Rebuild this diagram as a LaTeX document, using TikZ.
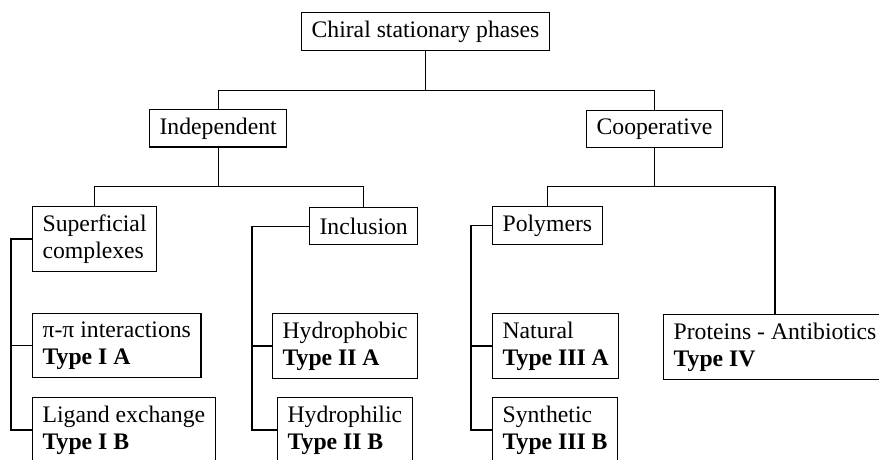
\documentclass[tikz,border=0pt]{standalone}
\usepackage{fontspec}
\setmainfont{Liberation Serif}
\usetikzlibrary{positioning}

\begin{document}
\begin{tikzpicture}[x=0.5pt, y=-0.5pt, line width=0.6pt,
  box/.style={draw, anchor=north west, align=left, inner xsep=5pt, inner ysep=4pt,
    minimum height=18.6pt, font=\fontsize{11.85}{13.6}\selectfont}]
  \useasboundingbox (0,0) rectangle (879,460);
  \clip (0,0) rectangle (879,460);

  % Root and first split
  \node[box] (csp) at (301,12) {Chiral stationary phases};
  \node[box] (indep) at (149,109) {Independent};
  \node[box] (coop) at (586,110) {Cooperative};

  % Independent branch
  \node[box] (super) at (32,206) {Superficial\\complexes};
  \node[box] (incl) at (309,207) {Inclusion};
  \node[box] (pipi) at (32,313) {π-π interactions\\\textbf{Type I A}};
  \node[box] (ligand) at (32,397) {Ligand exchange\\\textbf{Type I B}};
  \node[box] (phobic) at (272,313) {Hydrophobic\\\textbf{Type II A}};
  \node[box] (philic) at (277,397) {Hydrophilic\\\textbf{Type II B}};

  % Cooperative branch
  \node[box] (poly) at (492,206) {Polymers};
  \node[box] (natural) at (492,313) {Natural\\\textbf{Type III A}};
  \node[box] (synth) at (492,397) {Synthetic\\\textbf{Type III B}};
  \node[box] (prot) at (663,314) {Proteins - Antibiotics\\\textbf{Type IV}};

  % Tree links
  \draw (csp.south) -- ++(0,40) coordinate (j0);
  \draw (indep.north) |- (j0) -| (coop.north);
  \draw (indep.south) -- ++(0,39) coordinate (j1);
  \draw (super.north) |- (j1) -| (incl.north);
  \draw (coop.south) -- ++(0,38) coordinate (j2);
  \draw (poly.north) |- (j2) -| (prot.north);

  % Side spines
  \draw (super.west) -- ++(-21,0) coordinate (s0) |- (ligand.west);
  \draw (s0 |- pipi.west) -- (pipi.west);
  \draw (incl.west) -- ++(-57,0) coordinate (s1) |- (philic.west);
  \draw (s1 |- phobic.west) -- (phobic.west);
  \draw (poly.west) -- ++(-21,0) coordinate (s2) |- (synth.west);
  \draw (s2 |- natural.west) -- (natural.west);
\end{tikzpicture}
\end{document}
